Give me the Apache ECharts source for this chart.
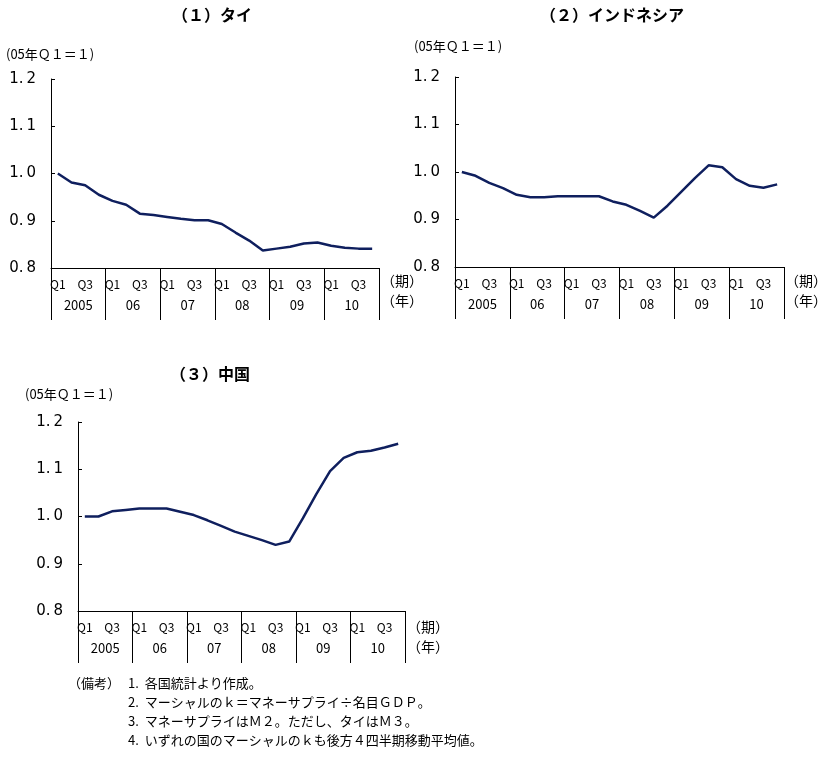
<!DOCTYPE html>
<html>
<head>
<meta charset="utf-8">
<script src="https://cdn.jsdelivr.net/npm/echarts@6/dist/echarts.min.js"></script>
<style>html,body{margin:0;padding:0;background:#fff}#main{width:828px;height:758px}</style>
</head>
<body>
<div id="main"></div>
<script>
// 四半期・年ラベル
var quarters = [];
for (var y = 0; y < 6; y++) { quarters.push('Q1', '', 'Q3', ''); }
var years = ['2005', '06', '07', '08', '09', '10'];
var yTicks = ['0.8', '0.9', '1.0', '1.1', '1.2'];

// マーシャルのk（05年Q1=1）
var thailand = [1.000, 0.981, 0.975, 0.955, 0.942, 0.934, 0.915, 0.912, 0.908, 0.904, 0.901, 0.901,
    0.893, 0.875, 0.858, 0.837, 0.841, 0.845, 0.852, 0.854, 0.847, 0.843, 0.841, 0.841];
var indonesia = [1.000, 0.992, 0.977, 0.966, 0.952, 0.947, 0.947, 0.949, 0.949, 0.949, 0.949, 0.938,
    0.931, 0.918, 0.904, 0.929, 0.958, 0.987, 1.014, 1.010, 0.985, 0.971, 0.967, 0.974];
var china = [1.000, 1.000, 1.011, 1.014, 1.017, 1.017, 1.017, 1.010, 1.003, 0.992, 0.980, 0.968,
    0.959, 0.950, 0.940, 0.947, 0.996, 1.048, 1.096, 1.124, 1.136, 1.139, 1.146, 1.154];

var FONT = '"Noto Sans CJK JP", sans-serif';
var grids = [
    {left: 51, top: 79, width: 328, height: 189},
    {left: 455, top: 77, width: 329, height: 190},
    {left: 78, top: 422, width: 327, height: 189}
];
var seriesData = [thailand, indonesia, china];

var option = {
    animation: false,
    textStyle: {fontFamily: FONT},
    grid: grids,
    xAxis: [],
    yAxis: [],
    series: [],
    graphic: []
};

for (var g = 0; g < 3; g++) {
    option.xAxis.push({
        type: 'category', gridIndex: g, data: quarters, boundaryGap: true,
        axisLine: {lineStyle: {color: '#000', width: 1}},
        axisTick: {show: false},
        axisLabel: {interval: 0, color: '#000', fontSize: 12, margin: 10, fontFamily: FONT}
    });
    option.xAxis.push({
        type: 'category', gridIndex: g, data: years, boundaryGap: true, position: 'bottom',
        axisLine: {show: false},
        axisTick: {show: true, length: 52, lineStyle: {color: '#000'}},
        axisLabel: {interval: 0, color: '#000', fontSize: 13, margin: 31, fontFamily: FONT}
    });
    option.yAxis.push({
        type: 'value', gridIndex: g, min: 0.8, max: 1.2, interval: 0.1,
        splitLine: {show: false},
        axisLine: {show: true, lineStyle: {color: '#000'}},
        axisTick: {show: true, inside: true, length: 4, lineStyle: {color: '#000'}},
        axisLabel: {color: '#000', fontSize: 15, margin: 15, fontFamily: 'Liberation Sans Narrow, DejaVu Sans',
            formatter: function (v) { return yTicks[Math.round((v - 0.8) * 10)].replace('.', '.\u2009'); }}
    });
    option.series.push({
        type: 'line', xAxisIndex: g * 2, yAxisIndex: g, data: seriesData[g],
        symbol: 'none', lineStyle: {color: '#0f1f5e', width: 2.5}
    });
}

function txt(x, y, s, size, weight, lh) {
    option.graphic.push({type: 'text', left: x, top: y,
        style: {text: s, fontSize: size || 12, fontWeight: weight || 'normal', fill: '#000',
            fontFamily: FONT, lineHeight: lh || null}});
}
txt(172, 7, '（１）タイ', 16, 'bold');
txt(540, 7, '（２）インドネシア', 16, 'bold');
txt(170, 366, '（３）中国', 16, 'bold');
txt(6, 48, '(05年Ｑ１＝１)', 13);
txt(414, 40, '(05年Ｑ１＝１)', 13);
txt(25, 388, '(05年Ｑ１＝１)', 13);
txt(381, 271, '（期）\n（年）', 14, 'normal', 20);
txt(785, 271, '（期）\n（年）', 14, 'normal', 20);
txt(407, 617, '（期）\n（年）', 14, 'normal', 20);
txt(68, 674, '（備考）', 13, 'normal', 19);
txt(128, 674, '1.  各国統計より作成。\n2.  マーシャルのｋ＝マネーサプライ÷名目ＧＤＰ。\n3.  マネーサプライはＭ２。ただし、タイはＭ３。\n4.  いずれの国のマーシャルのｋも後方４四半期移動平均値。', 13, 'normal', 19);

var chart = echarts.init(document.getElementById('main'));
chart.setOption(option);
</script>
</body>
</html>
